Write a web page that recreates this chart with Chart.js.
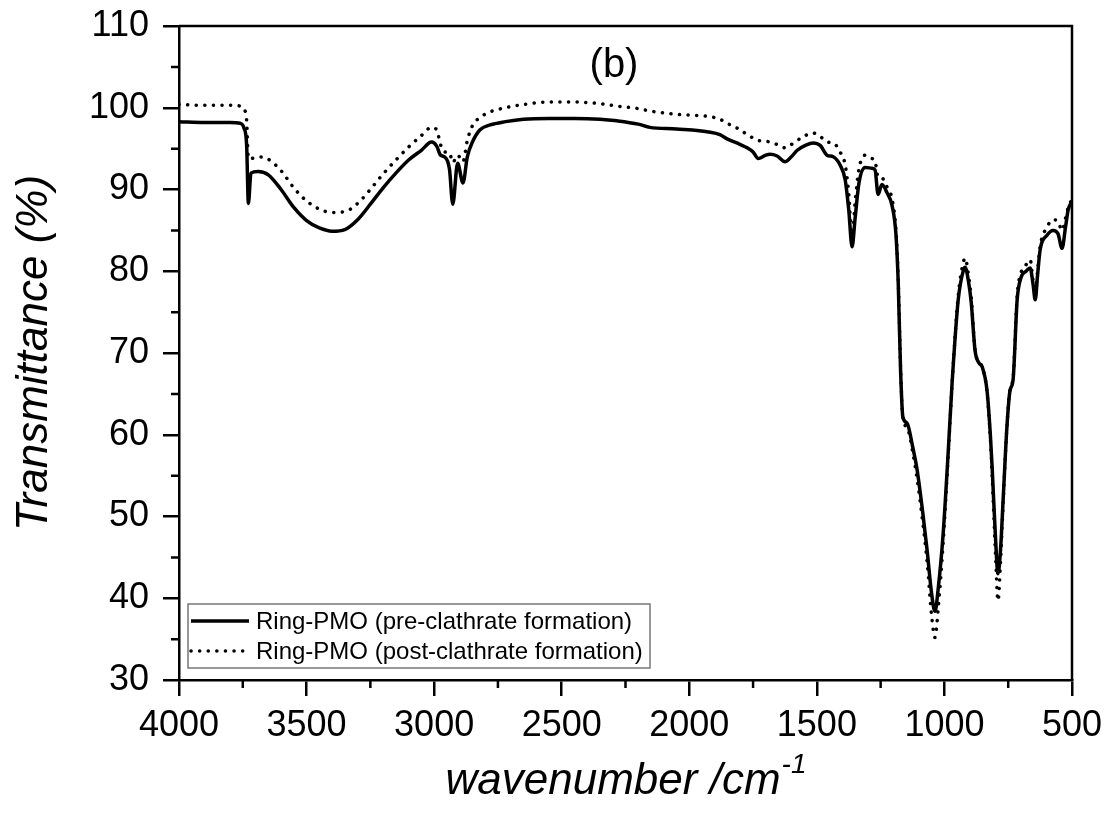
<!DOCTYPE html>
<html>
<head>
<meta charset="utf-8">
<script src="https://cdn.jsdelivr.net/npm/chart.js@4.4.1/dist/chart.umd.min.js"></script>
<style>
  html, body { margin: 0; padding: 0; background: #fff; }
  canvas { display: block; }
</style>
</head>
<body>
<canvas id="myChart" width="1109" height="822"></canvas>
<script>
// wavenumber (cm-1)
var wavenumbers = [4000, 3900, 3800, 3760, 3745, 3735, 3728, 3718, 3690, 3650, 3600, 3550, 3500, 3450, 3400, 3350, 3300, 3250, 3200, 3150, 3100, 3050, 3010, 2990, 2975, 2960, 2940, 2927, 2908, 2887, 2870, 2850, 2820, 2780, 2720, 2650, 2550, 2450, 2350, 2283, 2200, 2154, 2050, 1918, 1880, 1852, 1800, 1773, 1750, 1730, 1700, 1683, 1656, 1624, 1600, 1577, 1545, 1515, 1487, 1460, 1436, 1409, 1389, 1375, 1362, 1350, 1335, 1311, 1285, 1272, 1260, 1245, 1225, 1205, 1190, 1181, 1172, 1163, 1146, 1125, 1107, 1085, 1068, 1050, 1037, 1025, 1005, 985, 970, 946, 925, 919, 905, 895, 880, 865, 852, 833, 820, 813, 800, 790, 780, 770, 755, 743, 731, 715, 700, 680, 664, 653, 644, 635, 625, 598, 574, 555, 539, 525, 515, 500];

var preClathrate = [98.3, 98.2, 98.2, 98.1, 97.5, 95.5, 88.3, 92.0, 92.2, 91.8, 90.0, 87.8, 86.2, 85.3, 84.9, 85.1, 86.3, 88.2, 90.2, 92.0, 93.6, 94.8, 95.8, 95.3, 94.2, 94.0, 92.5, 88.2, 93.2, 90.8, 94.0, 95.8, 97.3, 97.9, 98.3, 98.6, 98.7, 98.7, 98.6, 98.4, 98.0, 97.6, 97.4, 97.0, 96.7, 96.2, 95.5, 95.1, 94.6, 93.8, 94.2, 94.3, 94.1, 93.4, 94.0, 94.8, 95.4, 95.7, 95.4, 94.2, 94.0, 93.0, 91.2, 87.5, 83.0, 86.5, 90.8, 92.7, 92.6, 92.4, 89.4, 90.6, 89.6, 88.0, 84.5, 78.5, 68.0, 62.2, 61.4, 58.6, 55.7, 50.5, 45.9, 40.5, 38.4, 41.0, 47.9, 58.0, 66.3, 76.5, 80.2, 80.5, 78.6, 76.2, 70.3, 68.8, 68.3, 65.4, 60.0, 56.0, 47.5, 43.0, 46.0, 52.0, 61.0, 65.4, 66.7, 76.5, 79.2, 80.0, 80.4, 78.5, 76.5, 79.5, 82.6, 84.4, 85.0, 84.6, 82.8, 85.5, 87.5, 88.6];

var postClathrate = [100.4, 100.3, 100.3, 100.2, 99.8, 98.5, 93.8, 93.8, 94.0, 93.7, 92.3, 90.2, 88.6, 87.6, 87.2, 87.3, 88.3, 90.0, 91.9, 93.6, 95.2, 96.6, 97.6, 97.3, 95.5, 94.6, 94.5, 93.3, 94.2, 93.4, 96.0, 97.8, 98.8, 99.5, 100.0, 100.4, 100.7, 100.7, 100.5, 100.2, 99.9, 99.6, 99.2, 98.9, 98.6, 98.1, 97.3, 96.7, 96.3, 96.0, 95.9, 95.8, 95.5, 95.1, 95.5, 96.0, 96.6, 96.9, 96.5, 95.8, 95.7, 94.6, 93.0, 89.5, 84.0, 88.5, 92.5, 94.2, 93.8, 93.5, 91.5, 91.4, 90.3, 88.8, 85.0, 79.0, 68.5, 62.0, 60.9, 58.0, 54.6, 49.3, 44.5, 37.8, 35.2, 38.5, 46.8, 57.5, 66.2, 77.0, 81.2, 81.6, 79.4, 76.8, 70.4, 68.9, 68.3, 65.2, 59.5, 55.0, 45.5, 39.7, 44.5, 51.5, 61.0, 65.6, 66.9, 77.0, 79.8, 80.8, 81.4, 79.0, 77.3, 80.0, 83.0, 85.4, 86.3, 86.1, 85.0, 86.5, 87.8, 88.8];

var seriesLabels = ['Ring-PMO (pre-clathrate formation)', 'Ring-PMO (post-clathrate formation)'];
var xTicks = [4000, 3500, 3000, 2500, 2000, 1500, 1000, 500];
var yTicks = [30, 40, 50, 60, 70, 80, 90, 100, 110];
var xTitle = 'wavenumber /cm';
var xTitleSup = '-1';

var FONT = '"Liberation Sans", Arial, sans-serif';

function toPoints(ys) {
  return wavenumbers.map(function (w, i) { return { x: w, y: ys[i] }; });
}

// frame, minor ticks, x title with superscript, panel label and legend box
var extras = {
  id: 'extras',
  afterDraw: function (chart) {
    var ctx = chart.ctx;
    var a = chart.chartArea;
    var xs = chart.scales.x, ys = chart.scales.y;
    ctx.save();
    ctx.strokeStyle = '#000';
    ctx.lineWidth = 2.5;
    ctx.beginPath();
    ctx.moveTo(a.left, a.top); ctx.lineTo(a.right, a.top); ctx.lineTo(a.right, a.bottom);
    ctx.stroke();

    // minor ticks
    ctx.beginPath();
    for (var w = 3750; w > 500; w -= 500) {
      var px = xs.getPixelForValue(w);
      ctx.moveTo(px, a.bottom); ctx.lineTo(px, a.bottom + 8);
    }
    for (var v = 35; v < 110; v += 10) {
      var py = ys.getPixelForValue(v);
      ctx.moveTo(a.left, py); ctx.lineTo(a.left - 8, py);
    }
    ctx.stroke();

    // x axis title
    ctx.fillStyle = '#000';
    ctx.textBaseline = 'alphabetic';
    ctx.textAlign = 'left';
    ctx.font = 'italic 44px ' + FONT;
    var w1 = ctx.measureText(xTitle).width;
    ctx.font = 'italic 28px ' + FONT;
    var w2 = ctx.measureText(xTitleSup).width;
    var x0 = (a.left + a.right) / 2 - (w1 + w2) / 2;
    ctx.font = 'italic 44px ' + FONT;
    ctx.fillText(xTitle, x0, 794);
    ctx.font = 'italic 28px ' + FONT;
    ctx.fillText(xTitleSup, x0 + w1 + 1, 773);

    // (b)
    ctx.font = '40px ' + FONT;
    ctx.textAlign = 'center';
    ctx.textBaseline = 'middle';
    ctx.fillText('(b)', 614, 66);

    // legend
    ctx.lineWidth = 1.5;
    ctx.strokeStyle = '#777';
    ctx.strokeRect(188, 604, 462, 64);
    var rows = [621, 651];
    chart.data.datasets.forEach(function (ds, i) {
      ctx.strokeStyle = '#000';
      ctx.lineWidth = ds.borderWidth;
      ctx.lineCap = ds.borderCapStyle || 'butt';
      ctx.setLineDash(ds.borderDash || []);
      ctx.beginPath();
      ctx.moveTo(191, rows[i]); ctx.lineTo(249, rows[i]);
      ctx.stroke();
      ctx.setLineDash([]);
      ctx.font = '24px ' + FONT;
      ctx.textAlign = 'left';
      ctx.fillText(ds.label, 256, rows[i] + 1);
    });
    ctx.restore();
  }
};

var config = {
  type: 'line',
  data: {
    datasets: [
      {
        label: seriesLabels[0],
        data: toPoints(preClathrate),
        borderColor: '#000',
        borderWidth: 3.5,
        pointRadius: 0,
        fill: false,
        cubicInterpolationMode: 'monotone'
      },
      {
        label: seriesLabels[1],
        data: toPoints(postClathrate),
        borderColor: '#000',
        borderWidth: 3.5,
        borderDash: [0.1, 8.5],
        borderCapStyle: 'round',
        pointRadius: 0,
        fill: false,
        cubicInterpolationMode: 'monotone'
      }
    ]
  },
  options: {
    responsive: false,
    animation: false,
    layout: { padding: { top: 26, right: 37, left: 0, bottom: 0 } },
    plugins: {
      legend: { display: false },
      tooltip: { enabled: false }
    },
    scales: {
      x: {
        type: 'linear',
        reverse: true,
        min: 500,
        max: 4000,
        afterBuildTicks: function (s) { s.ticks = xTicks.map(function (v) { return { value: v }; }); },
        afterFit: function (s) { s.height = 142; s.paddingLeft = 0; s.paddingRight = 0; },
        grid: { display: true, drawOnChartArea: false, drawTicks: true, tickLength: 16, color: '#000', lineWidth: 2.5 },
        border: { display: true, color: '#000', width: 2.5 },
        ticks: {
          color: '#000',
          padding: 8,
          maxRotation: 0,
          callback: function (v) { return String(v); },
          font: { family: FONT, size: 36 }
        },
        title: { display: false }
      },
      y: {
        min: 30,
        max: 110,
        afterBuildTicks: function (s) { s.ticks = yTicks.map(function (v) { return { value: v }; }); },
        afterFit: function (s) { s.width = 179; s.paddingTop = 0; s.paddingBottom = 0; },
        grid: { display: true, drawOnChartArea: false, drawTicks: true, tickLength: 16, color: '#000', lineWidth: 2.5 },
        border: { display: true, color: '#000', width: 2.5 },
        ticks: {
          color: '#000',
          padding: 14,
          callback: function (v) { return String(v); },
          font: { family: FONT, size: 36 }
        },
        title: {
          display: true,
          text: 'Transmittance (%)',
          color: '#000',
          padding: { top: 8, bottom: 0 },
          font: { family: FONT, size: 44, style: 'italic' }
        }
      }
    }
  },
  plugins: [extras]
};

var myChart = new Chart(document.getElementById('myChart'), config);
</script>
</body>
</html>
